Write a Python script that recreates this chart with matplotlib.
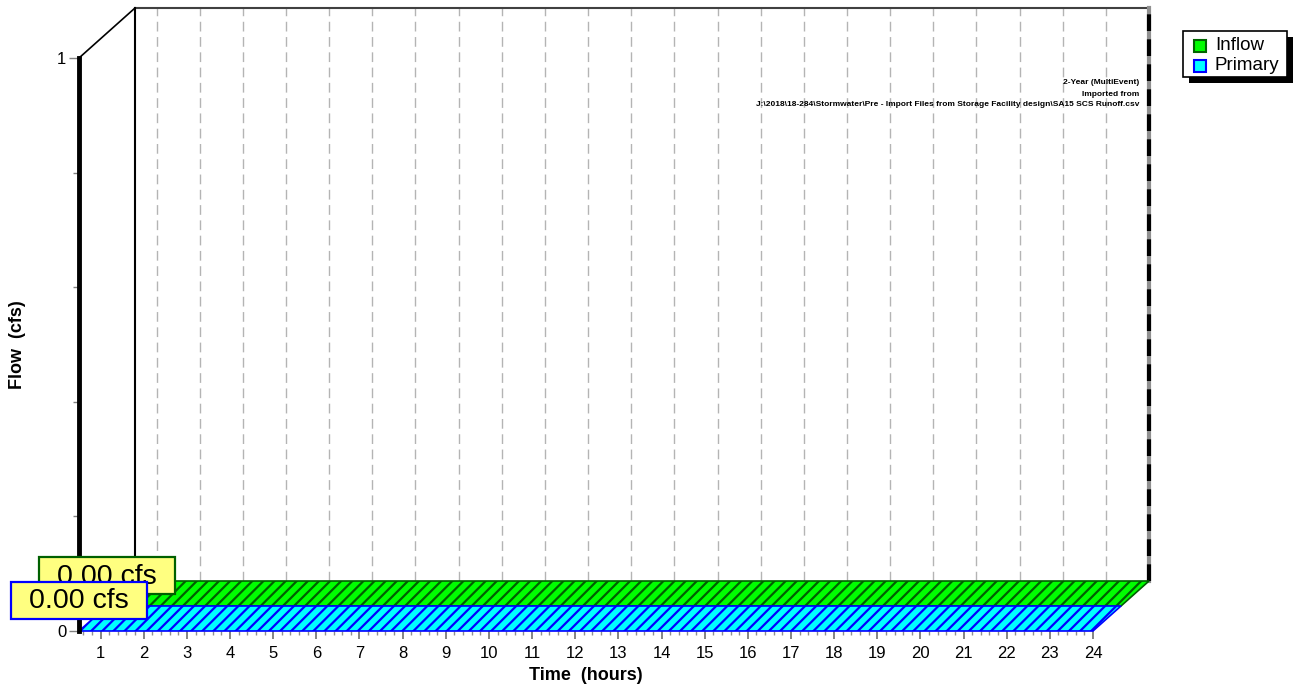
import numpy as np
import matplotlib
matplotlib.use('Agg')
import matplotlib.pyplot as plt
from matplotlib.patches import Polygon, Rectangle
from matplotlib.ticker import MultipleLocator, FixedLocator
from matplotlib.transforms import ScaledTranslation

plt.rcParams['font.family'] = ['Liberation Sans', 'DejaVu Sans']
plt.rcParams['hatch.linewidth'] = 1.6

# data (both hydrographs are flat at zero)
time_hours = [0.5, 24.0]
inflow_cfs = [0.00, 0.00]
primary_cfs = [0.00, 0.00]
peak_labels = ['0.00 cfs', '0.00 cfs']
hour_ticks = list(range(1, 25))
series_names = ['Inflow', 'Primary']
notes = ['2-Year (MultiEvent)', 'Imported from',
         'J:\\2018\\18-284\\Stormwater\\Pre - Import Files from Storage Facility design\\SA15 SCS Runoff.csv']

W, H = 1294, 689
fig = plt.figure(figsize=(W / 100, H / 100), dpi=100)
ax = fig.add_axes([79 / W, 1 - 631 / H, (1093 - 79) / W, (631 - 58) / H])
ax.set_xlim(0.5, 24)
ax.set_ylim(0, 1)
ax.patch.set_visible(False)
for s in ax.spines.values():
    s.set_visible(False)

# depth step of the pseudo 3d view, converted to data units
px_hr = (1093 - 79) / (24 - 0.5)
px_cfs = (631 - 58) / 1.0
sx = 28 / px_hr
sy = 25 / px_cfs
bx, by = 2 * sx, 2 * sy

# back wall grid
for h in hour_ticks[:-1]:
    ax.plot([h + bx, h + bx], [by, 1 + by], color='#b4b4b4', lw=1, ls=(0, (7, 4)), clip_on=False, zorder=1)
ax.plot([0.5 + bx, 24 + bx], [1 + by, 1 + by], color='#404040', lw=1.5, clip_on=False, zorder=2)
ax.plot([24 + bx, 24 + bx], [by, 1 + by], color='#909090', lw=3, clip_on=False, zorder=2)
ax.plot([24 + bx, 24 + bx], [by, 1 + by], color='black', lw=3, ls=(0, (4, 2)), clip_on=False, zorder=2)
ax.plot([0.5 + bx, 0.5 + bx], [by, 1 + by], color='black', lw=1.5, clip_on=False, zorder=2)
ax.plot([0.5, 0.5 + bx], [1, 1 + by], color='black', lw=1.2, clip_on=False, zorder=2)
ax.plot([0.5, 0.5], [0, 1], color='black', lw=3.5, clip_on=False, zorder=6)

# the two ribbons, Primary in front (depth 0), Inflow behind (depth 1)
styles = [('#00ff00', '#006000'), ('#00ffff', '#0000ff')]
series = [inflow_cfs, primary_cfs]
depths = [1, 0]
t = np.array(time_hours)
for vals, (face, edge), k in zip(series, styles, depths):
    v = np.array(vals)
    front = np.column_stack([t + k * sx, v + k * sy])
    back = np.column_stack([t + (k + 1) * sx, v + (k + 1) * sy])[::-1]
    poly = Polygon(np.vstack([front, back]), closed=True, facecolor=face, edgecolor=edge,
                   hatch='///', lw=1.2, clip_on=False, zorder=3 + (1 - k))
    ax.add_patch(poly)

# peak labels
for vals, (face, edge), k, lab in zip(series, styles, depths, peak_labels):
    x0 = time_hours[0] + k * sx
    y0 = vals[0] + k * sy
    tr = fig.dpi_scale_trans + ScaledTranslation(x0, y0, ax.transData)
    ax.add_patch(Rectangle((-0.68, 0.12), 1.36, 0.37, transform=tr, facecolor='#ffff80',
                           edgecolor=edge, lw=1.6, clip_on=False, zorder=8 + (1 - k)))
    ax.text(0, 0.295, lab, transform=tr, ha='center', va='center', fontsize=20.5,
            color='black', clip_on=False, zorder=8.5 + (1 - k))

# ticks
ax.yaxis.set_major_locator(FixedLocator([0, 1]))
ax.yaxis.set_minor_locator(FixedLocator([0.2, 0.4, 0.6, 0.8]))
ax.set_yticklabels(['0', '1'])
ax.tick_params(axis='y', which='major', length=7, width=1, color='#808080', pad=2, labelsize=12)
ax.tick_params(axis='y', which='minor', length=4, width=1, color='#808080')
ax.xaxis.set_major_locator(FixedLocator(hour_ticks))
ax.xaxis.set_minor_locator(MultipleLocator(0.2))
ax.set_xticklabels([str(h) for h in hour_ticks])
ax.tick_params(axis='x', which='major', length=6, width=1.2, color='#707070', pad=5, labelsize=12)
ax.tick_params(axis='x', which='minor', length=3, width=1, color='#909090')

fig.text(18 / W, 1 - 345 / H, 'Flow  (cfs)', rotation=90, ha='center', va='center',
         fontsize=13, fontweight='bold')
fig.text(586 / W, 1 - 676 / H, 'Time  (hours)', ha='center', va='center',
         fontsize=13, fontweight='bold')

# overlay in pixel coords for legend and notes
ov = fig.add_axes([0, 0, 1, 1])
ov.set_xlim(0, W)
ov.set_ylim(H, 0)
ov.axis('off')
ov.patch.set_visible(False)

for i, line in enumerate(notes):
    ov.text(1139, 83 + 11 * i, line, ha='right', va='center', fontsize=6, fontweight='bold')

ov.add_patch(Rectangle((1189, 37), 104, 46, facecolor='black', edgecolor='none'))
ov.add_patch(Rectangle((1183, 31), 104, 46, facecolor='white', edgecolor='black', lw=1.2))
leg_edges = ['#006400', '#0000ff']
for i, (name, (face, edge)) in enumerate(zip(series_names, styles)):
    yc = 46 + 19.5 * i
    ov.add_patch(Rectangle((1194, yc - 6), 12, 12, facecolor=face, edgecolor=leg_edges[i], lw=1.5))
    ov.text(1215, yc, name, ha='left', va='center', fontsize=13.5)

fig.savefig('out.png', dpi=100)
